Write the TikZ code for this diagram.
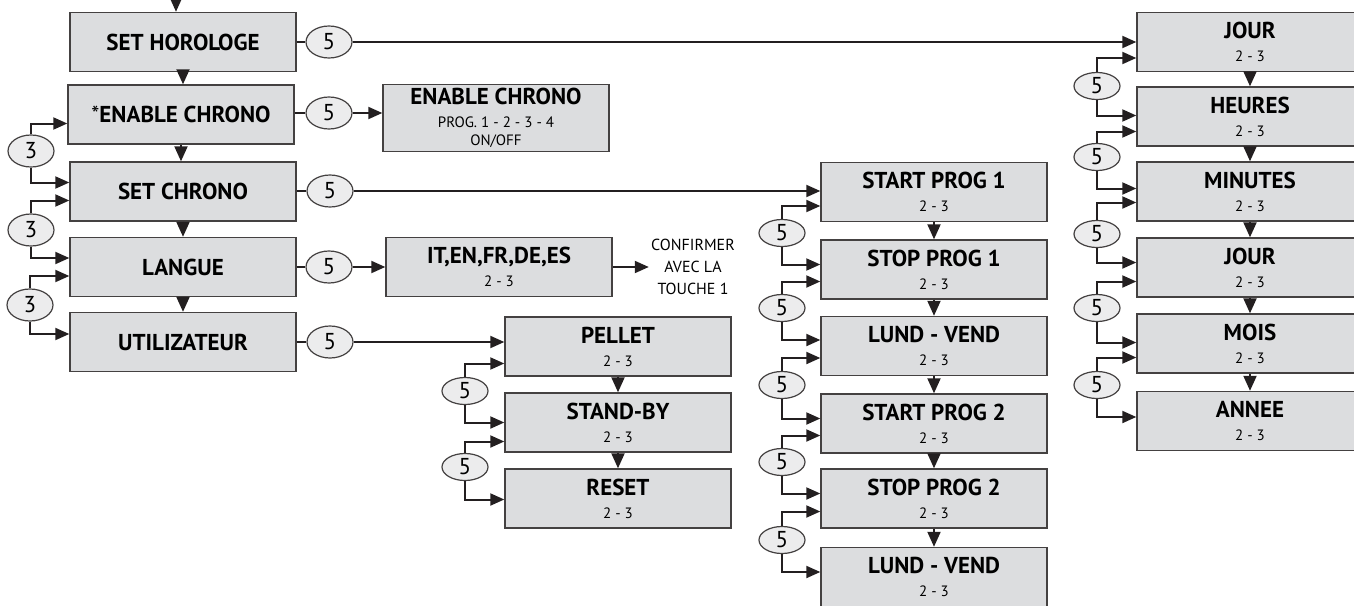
\documentclass[tikz,border=0pt]{standalone}
\usepackage{fontspec}
\setmainfont{PT Sans}
\usetikzlibrary{arrows.meta,shapes.geometric}

\definecolor{boxgray}{RGB}{220,221,223}
\definecolor{ovalgray}{RGB}{236,236,237}
\definecolor{ink}{RGB}{35,31,32}
\newcommand{\sub}[2][0.5pt]{\\[#1]{\mdseries\fontsize{7.5}{8}\selectfont #2}}

\begin{document}
\begin{tikzpicture}[x=0.5pt, y=-0.5pt,
  every node/.style={font=\fontsize{10.5}{12}\selectfont},
  box/.style={draw=ink!85, line width=0.7pt, fill=boxgray, minimum width=113pt,
              minimum height=29.5pt, inner sep=2pt, align=center,
              font=\fontsize{11.5}{11}\selectfont\bfseries},
  key/.style={ellipse, draw=ink!85, line width=0.6pt, fill=ovalgray, minimum width=23pt,
              minimum height=16pt, inner sep=0pt, font=\fontsize{11.5}{10}\selectfont},
  lkey/.style={key, minimum height=13.5pt},
  arr/.style={-{Triangle[length=7pt, width=6pt]}, line width=1pt, ink},
  link/.style={line width=1pt, ink},
  down/.style={-{Triangle[length=7.5pt, width=6.5pt]}, line width=1pt, ink}
]
\useasboundingbox (0,0) rectangle (1354,605);

% main menu
\node[box] (hor) at (183,42)    {SET HOROLOGE};
\node[box] (ena) at (181,114.5) {\textmd{*}ENABLE CHRONO};
\node[box] (chr) at (183,191.5) {SET CHRONO};
\node[box] (lan) at (183,267)   {LANGUE};
\node[box] (uti) at (183,342)   {UTILIZATEUR};

\node[key] (fh) at (329,42)  {5};
\node[key] (fe) at (329,113) {5};
\node[key] (fc) at (330,191) {5};
\node[key] (fl) at (329,267) {5};
\node[key] (fu) at (330,342) {5};

\node[key] (t1) at (31,151) {3};
\node[key] (t2) at (31,230) {3};
\node[key] (t3) at (30,305) {3};

% sub menus
\node[box] (enp) at (496,118) {ENABLE CHRONO\sub{PROG. 1 - 2 - 3 - 4}\sub[-2pt]{ON/OFF}};
\node[box] (itb) at (499,267) {IT,EN,FR,DE,ES\sub{2 - 3}};
\node[align=center, inner sep=1pt, font=\fontsize{8}{11}\selectfont]
  (conf) at (693,267) {CONFIRMER\\AVEC LA\\TOUCHE 1};

\node[box] (pel) at (618,346.5) {PELLET\sub{2 - 3}};
\node[box] (sby) at (618,422.5) {STAND-BY\sub{2 - 3}};
\node[box] (rst) at (618,498.5) {RESET\sub{2 - 3}};
\node[lkey] (p1) at (465,391) {5};
\node[lkey] (p2) at (465,467) {5};

\node[box] (sp1) at (934,192)   {START PROG 1\sub{2 - 3}};
\node[box] (tp1) at (934,269.5) {STOP PROG 1\sub{2 - 3}};
\node[box] (lv1) at (934,346)   {LUND - VEND\sub{2 - 3}};
\node[box] (sp2) at (934,423.5) {START PROG 2\sub{2 - 3}};
\node[box] (tp2) at (934,498.5) {STOP PROG 2\sub{2 - 3}};
\node[box] (lv2) at (934,577)   {LUND - VEND\sub{2 - 3}};
\node[lkey] (m1) at (782,233) {5};
\node[lkey] (m2) at (782,308) {5};
\node[lkey] (m3) at (782,385) {5};
\node[lkey] (m4) at (782,462) {5};
\node[lkey] (m5) at (782,540) {5};

\node[box] (jo1) at (1250,42)    {JOUR\sub{2 - 3}};
\node[box] (hr)  at (1250,116.5) {HEURES\sub{2 - 3}};
\node[box] (mn)  at (1250,191.5) {MINUTES\sub{2 - 3}};
\node[box] (jo2) at (1250,267.5) {JOUR\sub{2 - 3}};
\node[box] (moi) at (1250,343.5) {MOIS\sub{2 - 3}};
\node[box] (ann) at (1250,421)   {ANNEE\sub{2 - 3}};
\node[lkey] (r1) at (1097,86)  {5};
\node[lkey] (r2) at (1097,157) {5};
\node[lkey] (r3) at (1097,234) {5};
\node[lkey] (r4) at (1097,308) {5};
\node[lkey] (r5) at (1097,385) {5};

% entries
\coordinate (entry) at (176,-20);
\draw[arr] (entry) -- (entry |- hor.north);

\draw[link] (hor) -- (fh);
\draw[arr]  (fh) -- (fh -| jo1.west);
\draw[link] (ena.east |- fe) -- (fe);
\draw[arr]  (fe) -- (fe -| enp.west);
\draw[link] (chr.east |- fc) -- (fc);
\draw[arr]  (fc) -- (fc -| sp1.west);
\draw[link] (lan) -- (fl);
\draw[arr]  (fl) -- (fl -| itb.west);
\draw[arr]  (itb) -- (conf);
\draw[link] (uti) -- (fu);
\draw[arr]  (fu) -- (fu -| pel.west);

\foreach \a/\b in {hor/ena, ena/chr, chr/lan, lan/uti, pel/sby, sby/rst,
                   sp1/tp1, tp1/lv1, lv1/sp2, sp2/tp2, tp2/lv2,
                   jo1/hr, hr/mn, mn/jo2, jo2/moi, moi/ann}
  \draw[down] (\a.south) -- (\a.south |- \b.north);

% key 3 / key 5 loops
\foreach \o/\u/\l/\su/\sl in {t1/ena/chr/-4.5/4.5, t2/chr/lan/-4.5/4.5, t3/lan/uti/-4.5/4,
                              p1/pel/sby/-8.5/0, p2/sby/rst/-9.5/-0.5,
                              m1/sp1/tp1/-7/2.5, m2/tp1/lv1/-6/3, m3/lv1/sp2/-6/2.5,
                              m4/sp2/tp2/-6/2.5, m5/tp2/lv2/-6.5/2.5,
                              r1/jo1/hr/-8/0.5, r2/hr/mn/-7.5/1.5, r3/mn/jo2/-5.5/2.5,
                              r4/jo2/moi/-7/0.5, r5/moi/ann/-7/2}{
  \draw[arr] (\o.north) |- ([yshift=\su pt]\u.west);
  \draw[arr] (\o.south) |- ([yshift=\sl pt]\l.west);
}
\end{tikzpicture}
\end{document}
